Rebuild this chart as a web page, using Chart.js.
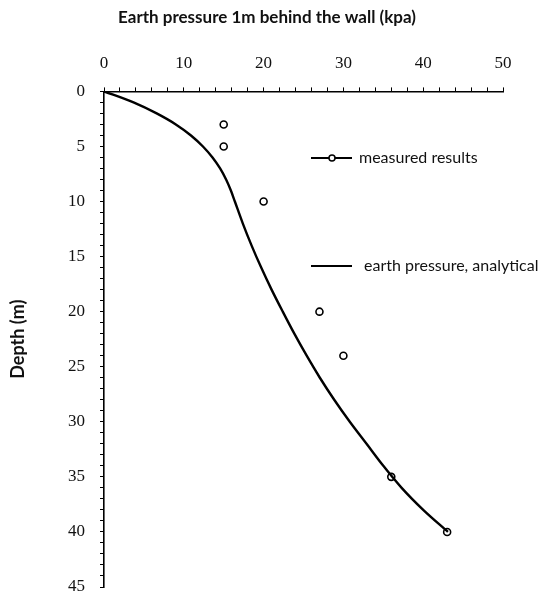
<!DOCTYPE html>
<html>
<head>
<meta charset="utf-8">
<script src="https://cdn.jsdelivr.net/npm/chart.js@4.4.1/dist/chart.umd.min.js"></script>
<style>
    html, body { margin: 0; padding: 0; background: #fff; }
    #wrap { width: 546px; height: 597px; }
</style>
</head>
<body>
<div id="wrap"><canvas id="chart1" width="546" height="597"></canvas></div>
<script>
const measuredPressure = [15, 15, 20, 27, 30, 36, 43]
const measuredDepth = [3, 5, 10, 20, 24, 35, 40]

const analyticalPressure = [0, 3.7, 6.6, 9.0, 10.9, 12.4, 13.6, 14.55, 15.3, 15.9, 16.4, 17.4, 18.5, 19.7, 21.0, 22.4, 23.85, 25.4, 27.05, 28.85, 30.8, 32.9, 35.0, 37.3, 40.0, 43.1]
const analyticalDepth = [0, 1, 2, 3, 4, 5, 6, 7, 8, 9, 10, 12, 14, 16, 18, 20, 22, 24, 26, 28, 30, 32, 34, 36, 38, 40]

const xTickLabels = [0, 10, 20, 30, 40, 50]
const yTickLabels = [0, 5, 10, 15, 20, 25, 30, 35, 40, 45]

const legendLabels = ["measured results", "earth pressure, analytical"]

;(function() {
    const toPoints = (xs, ys) => xs.map((x, i) => ({ "x": x, "y": ys[i] }))

    // legend sits inside the plot, drawn by hand like in the original figure
    const insideLegend = {
        id: "insideLegend",
        afterDraw(chart) {
            const ctx = chart.ctx
            const rows = [{ y: 158, marker: true, textX: 359 }, { y: 266, marker: false, textX: 364 }]
            ctx.save()
            ctx.strokeStyle = "#000"
            ctx.font = "16px Lato"
            ctx.textBaseline = "middle"
            rows.forEach((r, i) => {
                ctx.lineWidth = 2
                ctx.beginPath()
                ctx.moveTo(311, r.y)
                ctx.lineTo(352, r.y)
                ctx.stroke()
                if (r.marker) {
                    ctx.lineWidth = 1.5
                    ctx.beginPath()
                    ctx.arc(332, r.y, 3, 0, Math.PI * 2)
                    ctx.fillStyle = "#fff"
                    ctx.fill()
                    ctx.stroke()
                }
                ctx.fillStyle = "#111"
                ctx.fillText(legendLabels[i], r.textX, r.y)
            })
            ctx.restore()
        }
    }

    const chartData = {
        "type": "scatter",
        "data": {
            "datasets": [
                {
                    "label": legendLabels[1],
                    "data": toPoints(analyticalPressure, analyticalDepth),
                    "showLine": true,
                    "borderColor": "#000",
                    "borderWidth": 2.4,
                    "pointRadius": 0,
                    "cubicInterpolationMode": "monotone"
                },
                {
                    "label": legendLabels[0],
                    "data": toPoints(measuredPressure, measuredDepth),
                    "showLine": false,
                    "pointStyle": "circle",
                    "pointRadius": 3.5,
                    "pointBorderWidth": 1.6,
                    "borderColor": "#000",
                    "backgroundColor": "#fff"
                }
            ]
        },
        "options": {
            "responsive": false,
            "animation": false,
            "layout": {
                "padding": { "left": 31, "right": 43, "top": 0, "bottom": 10 }
            },
            "scales": {
                "x": {
                    "type": "linear",
                    "position": "top",
                    "min": 0,
                    "max": 50,
                    "afterFit": (scale) => { scale.height = 59 },
                    "ticks": {
                        "stepSize": 2,
                        "autoSkip": false,
                        "maxRotation": 0,
                        "padding": 14,
                        "color": "#111",
                        "font": { "family": "'Liberation Serif'", "size": 17 },
                        "callback": (v) => xTickLabels.includes(v) ? String(v) : ""
                    },
                    "grid": {
                        "drawOnChartArea": false,
                        "tickLength": 4,
                        "color": "#000",
                        "lineWidth": 1
                    },
                    "border": { "display": true, "color": "#000", "width": 1.6 }
                },
                "y": {
                    "type": "linear",
                    "reverse": true,
                    "min": 0,
                    "max": 45,
                    "afterFit": (scale) => {
                        scale.width = 73
                        scale.paddingTop = 0
                        scale.paddingBottom = 0
                    },
                    "title": {
                        "display": true,
                        "text": "Depth (m)",
                        "color": "#111",
                        "font": { "family": "Lato", "size": 18, "weight": "bold" },
                        "padding": { "top": -24, "bottom": 0 }
                    },
                    "ticks": {
                        "stepSize": 1,
                        "autoSkip": false,
                        "padding": 15,
                        "color": "#111",
                        "font": { "family": "'Liberation Serif'", "size": 17 },
                        "callback": (v) => yTickLabels.includes(v) ? String(v) : ""
                    },
                    "grid": {
                        "drawOnChartArea": false,
                        "tickLength": 4,
                        "color": "#000",
                        "lineWidth": 1
                    },
                    "border": { "display": true, "color": "#000", "width": 1.6 }
                }
            },
            "plugins": {
                "legend": { "display": false },
                "tooltip": { "enabled": false },
                "title": {
                    "display": true,
                    "text": "Earth pressure 1m behind the wall (kpa)",
                    "color": "#111",
                    "font": { "family": "Lato", "size": 17, "weight": "bold" },
                    "padding": { "top": 7, "bottom": 5 }
                }
            }
        },
        "plugins": [insideLegend]
    }

    const ctx = document.getElementById("chart1").getContext("2d")
    new Chart(ctx, chartData)
})()
</script>
</body>
</html>
